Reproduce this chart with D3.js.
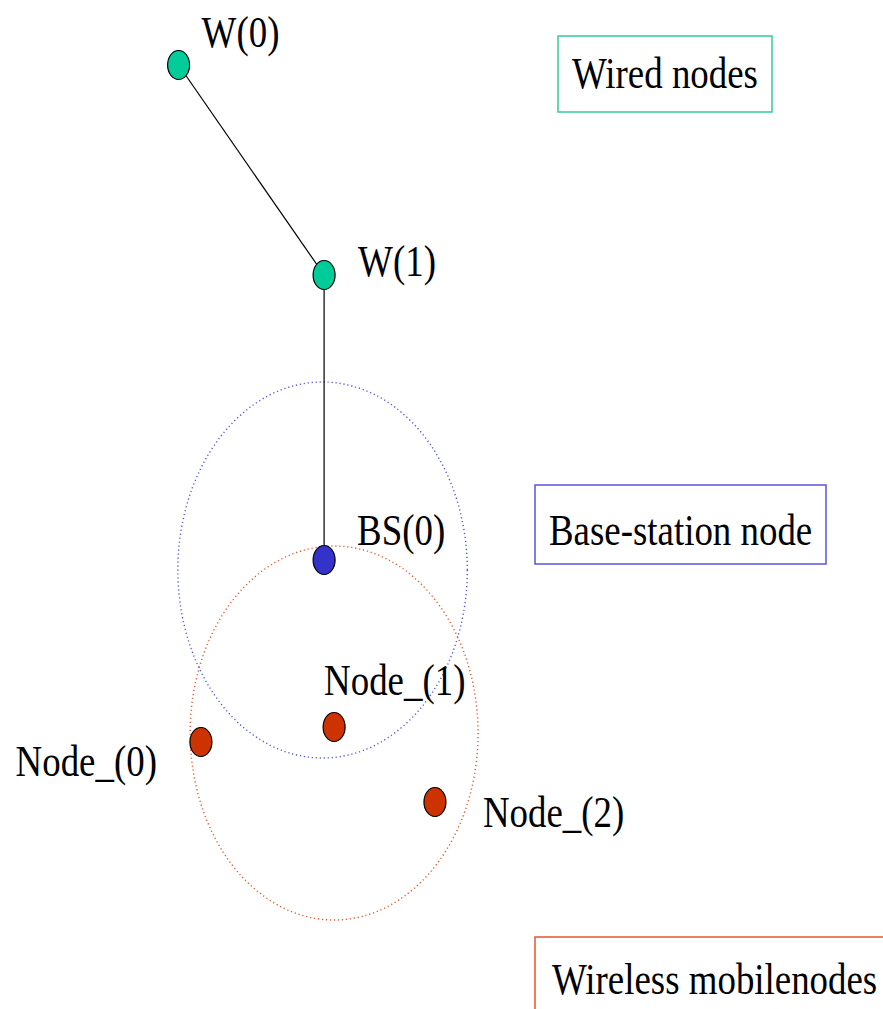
<!DOCTYPE html>
<html>
<head>
<meta charset="utf-8">
<script src="https://cdn.jsdelivr.net/npm/d3@7"></script>
<style>
  html, body { margin: 0; padding: 0; background: #fff; }
</style>
</head>
<body>
<svg id="chart" width="883" height="1009"></svg>
<script>
// nodes in world units (x is squeezed by the x scale)
var nodeNames = ['W(0)', 'W(1)', 'BS(0)', 'Node_(0)', 'Node_(1)', 'Node_(2)'];
var nodeX = [232, 421, 421, 261, 434, 565];
var nodeY = [65, 275, 560, 742, 727, 802];
var nodeKind = ['wired', 'wired', 'bs', 'mobile', 'mobile', 'mobile'];

// wired links (index pairs)
var links = [[0, 1], [1, 2]];

// radio ranges: centre and radius, world units
var rangeX = [419, 434];
var rangeY = [570, 733];
var rangeR = [188, 187];
var rangeKind = ['bs', 'mobile'];

var legendLabels = ['Wired nodes', 'Base-station node', 'Wireless mobilenodes'];
var legendKind = ['wired', 'bs', 'mobile'];

var fillColor = { wired: '#00cc99', bs: '#3333cc', mobile: '#cc3300' };
var lineColor = { wired: '#33cc99', bs: '#5555dd', mobile: '#e2582e' };
var serif = "'Liberation Serif', 'Times New Roman', serif";

var x = d3.scaleLinear().domain([0, 1147]).range([0, 883]);
var y = d3.scaleLinear().domain([0, 1009]).range([0, 1009]);
var kx = (x(100) - x(0)) / 100;

var svg = d3.select('#chart');

// label placement relative to node (pixels)
var labelOff = [
    { dx: 23, dy: -18, anchor: 'start' },
    { dx: 34, dy: 1, anchor: 'start' },
    { dx: 33, dy: -15, anchor: 'start' },
    { dx: -44, dy: 34, anchor: 'end' },
    { dx: -10, dy: -32, anchor: 'start' },
    { dx: 48, dy: 25, anchor: 'start' }
];

// range circles (dotted)
svg.append('g').selectAll('ellipse')
    .data(rangeR)
    .enter().append('ellipse')
    .attr('cx', function(d, i) { return x(rangeX[i]); })
    .attr('cy', function(d, i) { return y(rangeY[i]); })
    .attr('rx', function(d) { return d * kx; })
    .attr('ry', function(d) { return y(d) - y(0); })
    .style('fill', 'none')
    .style('stroke', function(d, i) { return lineColor[rangeKind[i]]; })
    .style('stroke-width', 1.4)
    .style('stroke-dasharray', '1.2,2.8');

// wired links
svg.append('g').selectAll('line')
    .data(links)
    .enter().append('line')
    .attr('x1', function(d) { return x(nodeX[d[0]]); })
    .attr('y1', function(d) { return y(nodeY[d[0]]); })
    .attr('x2', function(d) { return x(nodeX[d[1]]); })
    .attr('y2', function(d) { return y(nodeY[d[1]]); })
    .style('stroke', '#000')
    .style('stroke-width', 1.2);

// nodes
svg.append('g').selectAll('ellipse')
    .data(nodeNames)
    .enter().append('ellipse')
    .attr('cx', function(d, i) { return x(nodeX[i]); })
    .attr('cy', function(d, i) { return y(nodeY[i]); })
    .attr('rx', 11)
    .attr('ry', 14.5)
    .style('fill', function(d, i) { return fillColor[nodeKind[i]]; })
    .style('stroke', '#000')
    .style('stroke-width', 1.2);

// node labels
var labels = svg.append('g').selectAll('g')
    .data(nodeNames)
    .enter().append('g')
    .attr('transform', function(d, i) {
        return 'translate(' + (x(nodeX[i]) + labelOff[i].dx) + ',' + (y(nodeY[i]) + labelOff[i].dy) + ')';
    });
labels.append('text')
    .attr('transform', 'scale(0.82,1)')
    .style('font-family', serif)
    .style('font-size', '45px')
    .style('fill', '#000')
    .style('text-anchor', function(d, i) { return labelOff[i].anchor; })
    .text(function(d) { return d; });

// legend boxes
var legendBox = [
    { x: 558, y: 36, w: 214, h: 76, tx: 572, ty: 88 },
    { x: 535, y: 485, w: 291, h: 79, tx: 549, ty: 545 },
    { x: 535, y: 937, w: 400, h: 120, tx: 552, ty: 994 }
];
var legend = svg.append('g').selectAll('g')
    .data(legendLabels)
    .enter().append('g');
legend.append('rect')
    .attr('x', function(d, i) { return legendBox[i].x; })
    .attr('y', function(d, i) { return legendBox[i].y; })
    .attr('width', function(d, i) { return legendBox[i].w; })
    .attr('height', function(d, i) { return legendBox[i].h; })
    .style('fill', '#fff')
    .style('stroke', function(d, i) { return lineColor[legendKind[i]]; })
    .style('stroke-width', 1.5);
legend.append('text')
    .attr('transform', function(d, i) {
        return 'translate(' + legendBox[i].tx + ',' + legendBox[i].ty + ') scale(0.82,1)';
    })
    .style('font-family', serif)
    .style('font-size', '45px')
    .style('fill', '#000')
    .text(function(d) { return d; });
</script>
</body>
</html>
